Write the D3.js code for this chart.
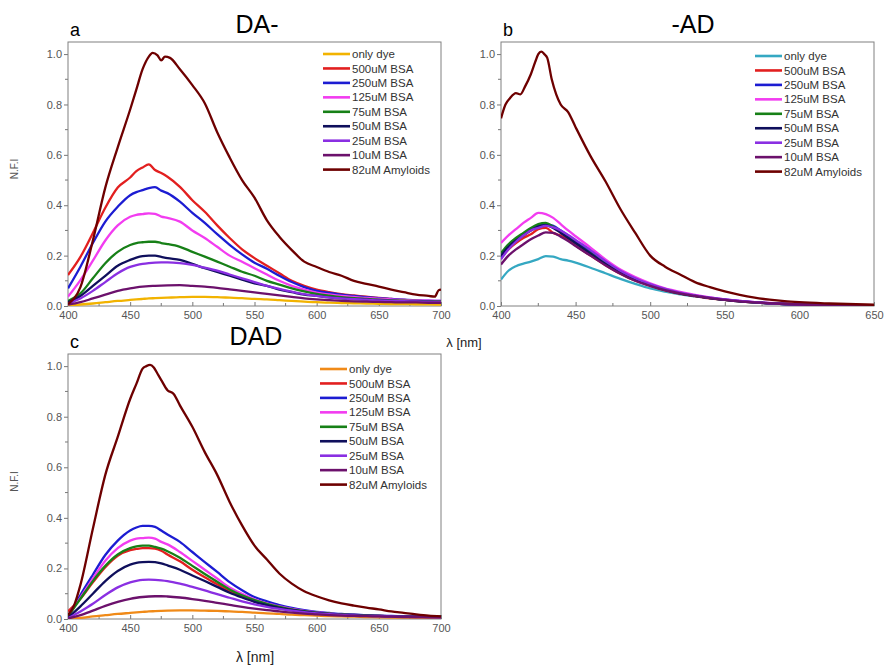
<!DOCTYPE html>
<html>
<head>
<meta charset="utf-8">
<script src="https://cdn.jsdelivr.net/npm/d3@7"></script>
<style>
  html, body { margin: 0; padding: 0; background: #fff; }
  svg { display: block; font-family: "Liberation Sans", Arial, sans-serif; }
</style>
</head>
<body>
<svg id="chart" width="886" height="669"></svg>
<script>
// ---- data -------------------------------------------------------------
const legendLabels = ["only dye", "500uM BSA", "250uM BSA", "125uM BSA", "75uM BSA",
                      "50uM BSA", "25uM BSA", "10uM BSA", "82uM Amyloids"];
const xTicksAC = [400, 450, 500, 550, 600, 650, 700];
const xTicksB = [400, 450, 500, 550, 600, 650];
const yTicks = [0.0, 0.2, 0.4, 0.6, 0.8, 1.0];

// Panel a (DA-)
const wlA = [400,410,420,430,440,450,455,460,465,470,475,480,490,500,510,520,530,540,550,560,570,580,590,600,610,620,630,640,650,660,670,680,690,700];
const dyeA    = [.003,.006,.01,.015,.02,.024,.026,.028,.03,.031,.032,.033,.035,.036,.036,.035,.033,.031,.028,.026,.023,.02,.017,.015,.013,.012,.011,.01,.009,.008,.008,.007,.007,.006];
const bsa500A = [.123,.195,.29,.39,.47,.51,.535,.55,.562,.54,.528,.513,.473,.42,.374,.32,.27,.225,.19,.16,.13,.1,.08,.065,.055,.047,.042,.037,.032,.028,.024,.021,.019,.017];
const bsa250A = [.07,.156,.25,.335,.394,.44,.452,.46,.468,.472,.458,.448,.414,.37,.33,.285,.243,.205,.172,.148,.12,.095,.075,.06,.052,.045,.04,.035,.031,.028,.025,.022,.021,.02];
const bsa125A = [.037,.103,.18,.26,.32,.354,.362,.365,.368,.366,.355,.35,.335,.30,.27,.235,.2,.176,.15,.125,.1,.08,.065,.053,.046,.04,.036,.032,.029,.026,.024,.022,.021,.02];
const bsa75A  = [.02,.05,.11,.17,.215,.242,.25,.253,.255,.255,.25,.246,.235,.215,.196,.176,.156,.136,.12,.1,.085,.07,.058,.048,.041,.035,.031,.028,.025,.022,.021,.02,.019,.018];
const bsa50A  = [.015,.04,.08,.12,.16,.183,.192,.198,.2,.2,.195,.19,.183,.167,.15,.135,.12,.105,.09,.08,.065,.055,.045,.04,.034,.03,.027,.025,.022,.02,.019,.018,.017,.016];
const bsa25A  = [.01,.03,.06,.095,.13,.155,.162,.167,.17,.172,.173,.173,.17,.163,.152,.14,.125,.11,.095,.08,.068,.057,.047,.04,.034,.03,.027,.025,.022,.02,.019,.018,.017,.016];
const bsa10A  = [.005,.015,.03,.045,.06,.07,.074,.077,.079,.08,.081,.082,.083,.08,.077,.072,.066,.06,.054,.048,.042,.036,.03,.026,.023,.02,.018,.017,.016,.015,.014,.014,.013,.013];
const wlAmyA  = [400,410,420,430,440,450,455,460,465,468,472,475,478,482,490,500,510,520,530,540,550,560,570,580,590,600,610,620,630,640,650,660,670,680,690,695,698,700];
const amyA    = [.008,.075,.26,.47,.63,.78,.86,.94,.99,1.005,.995,.975,.99,.985,.94,.877,.805,.69,.59,.50,.43,.34,.275,.222,.176,.155,.135,.12,.10,.088,.077,.065,.055,.045,.04,.037,.062,.065];

// Panel b (-AD)
const wlB = [400,405,410,415,420,425,430,435,440,445,450,460,470,480,490,500,510,520,530,540,550,560,570,580,590,600,620,650];
const dyeB    = [.105,.14,.158,.168,.176,.186,.198,.196,.186,.18,.172,.152,.13,.108,.088,.07,.057,.046,.038,.031,.025,.019,.015,.011,.008,.006,.004,.002];
const bsa500B = [.19,.225,.25,.27,.285,.305,.31,.29,.28,.262,.24,.2,.162,.128,.1,.08,.062,.049,.039,.03,.024,.018,.014,.011,.009,.007,.005,.003];
const bsa250B = [.19,.23,.26,.285,.305,.32,.325,.318,.3,.28,.258,.215,.172,.136,.107,.084,.066,.052,.041,.032,.025,.019,.014,.011,.008,.006,.004,.002];
const bsa125B = [.25,.28,.305,.33,.35,.37,.365,.35,.325,.3,.277,.232,.185,.145,.115,.09,.07,.056,.044,.034,.026,.02,.015,.012,.009,.007,.004,.002];
const bsa75B  = [.21,.245,.27,.29,.31,.325,.33,.315,.295,.272,.25,.21,.168,.132,.104,.082,.064,.05,.04,.031,.024,.018,.014,.011,.008,.006,.004,.002];
const bsa50B  = [.2,.235,.26,.28,.3,.315,.32,.31,.29,.27,.25,.208,.167,.132,.104,.082,.064,.05,.04,.031,.024,.018,.014,.011,.008,.006,.004,.002];
const bsa25B  = [.185,.225,.255,.28,.3,.31,.318,.312,.3,.282,.262,.222,.178,.14,.11,.087,.068,.053,.042,.033,.026,.02,.015,.011,.008,.006,.004,.002];
const bsa10B  = [.165,.2,.225,.245,.265,.28,.292,.29,.275,.258,.238,.2,.162,.128,.1,.08,.063,.05,.04,.031,.024,.018,.014,.011,.008,.006,.004,.002];
const wlAmyB  = [400,403,406,410,413,416,420,423,425,427,429,431,434,437,440,445,450,460,470,480,490,500,510,520,530,540,550,560,570,580,590,600,620,650];
const amyB    = [.745,.80,.825,.845,.84,.87,.92,.97,1.0,1.01,1.0,.985,.9,.84,.8,.77,.71,.595,.495,.385,.29,.20,.156,.125,.095,.075,.058,.044,.033,.025,.019,.015,.01,.005];

// Panel c (DAD)
const wlC = [400,410,420,430,440,450,455,460,465,470,475,480,490,500,510,520,530,540,550,560,570,580,590,600,610,620,630,640,650,660,670,680,690,700];
const dyeC    = [.001,.004,.01,.015,.02,.024,.026,.028,.03,.031,.032,.033,.034,.034,.033,.032,.03,.028,.025,.022,.02,.017,.015,.013,.011,.01,.009,.008,.007,.006,.006,.005,.005,.005];
const bsa500C = [.03,.08,.145,.205,.25,.272,.277,.28,.28,.278,.27,.255,.228,.195,.165,.137,.11,.088,.07,.056,.045,.036,.029,.024,.02,.017,.015,.013,.012,.011,.01,.009,.009,.008];
const bsa250C = [.01,.095,.175,.253,.31,.35,.362,.368,.368,.364,.35,.334,.305,.265,.225,.186,.146,.114,.087,.07,.055,.044,.035,.028,.024,.02,.018,.015,.013,.012,.011,.01,.009,.008];
const bsa125C = [.01,.085,.16,.23,.28,.31,.318,.32,.322,.318,.305,.295,.265,.23,.195,.16,.125,.1,.078,.062,.05,.04,.032,.026,.022,.018,.016,.014,.012,.011,.01,.009,.009,.008];
const bsa75C  = [.01,.08,.15,.21,.255,.28,.287,.29,.29,.285,.278,.268,.242,.21,.178,.147,.117,.094,.075,.06,.048,.038,.031,.025,.021,.018,.016,.014,.012,.011,.01,.009,.009,.008];
const bsa50C  = [.005,.05,.1,.15,.19,.215,.222,.225,.226,.225,.22,.212,.195,.172,.15,.127,.104,.085,.068,.055,.044,.036,.029,.024,.02,.017,.015,.013,.012,.011,.01,.009,.009,.008];
const bsa25C  = [.003,.03,.06,.095,.125,.145,.151,.155,.156,.155,.153,.15,.14,.127,.113,.098,.084,.07,.058,.048,.04,.033,.027,.022,.019,.016,.014,.012,.011,.01,.009,.008,.008,.007];
const bsa10C  = [.002,.015,.033,.052,.068,.08,.084,.087,.089,.09,.09,.089,.085,.079,.072,.064,.056,.048,.041,.035,.03,.025,.021,.018,.015,.013,.012,.011,.01,.009,.008,.008,.007,.007];
const wlAmyC  = [400,405,410,420,430,440,450,455,460,463,466,469,472,475,480,485,490,500,510,520,530,540,550,560,570,580,590,600,610,620,630,640,650,660,670,680,690,700];
const amyC    = [.015,.055,.135,.357,.57,.72,.87,.93,.99,1.0,1.005,.995,.97,.945,.905,.89,.845,.76,.66,.57,.463,.37,.29,.235,.18,.14,.11,.09,.074,.062,.053,.045,.038,.03,.024,.018,.013,.01];

// ---- styling ----------------------------------------------------------
const bsaColors = ["#e21f1f", "#1c1cd2", "#f23cf0", "#178017", "#0f0f5c", "#8a2fe2", "#6c116c"];
const amyColor = "#6e0000";
const dyeColors = { a: "#f2b300", b: "#35a8c2", c: "#f08a18" };

const svg = d3.select("#chart");

function zip(wl, vals) { return wl.map((w, i) => ({ w, v: vals[i] })); }

function drawPanel(p) {
  const g = svg.append("g");
  const x = d3.scaleLinear().domain(p.xDomain).range([p.left, p.left + p.width]);
  const y = d3.scaleLinear().domain([0, 1.048]).range([p.top + p.height, p.top]);

  // minor ticks
  const minorX = d3.range(p.xDomain[0], p.xDomain[1] + 1, 25).filter(v => v % 50 !== 0);
  g.append("g").selectAll("line").data(minorX).join("line")
    .attr("x1", d => x(d)).attr("x2", d => x(d))
    .attr("y1", p.top + p.height).attr("y2", p.top + p.height - 3)
    .attr("stroke", "#777").attr("stroke-width", 1);
  const minorY = [0.1, 0.3, 0.5, 0.7, 0.9];
  g.append("g").selectAll("line").data(minorY).join("line")
    .attr("x1", p.left - 3).attr("x2", p.left)
    .attr("y1", d => y(d)).attr("y2", d => y(d))
    .attr("stroke", "#777").attr("stroke-width", 1);

  // axes
  const ax = g.append("g").attr("transform", `translate(0,${p.top + p.height})`)
    .call(d3.axisBottom(x).tickValues(p.xTicks).tickFormat(d3.format("d"))
      .tickSizeInner(-4).tickSizeOuter(0).tickPadding(5));
  const ay = g.append("g").attr("transform", `translate(${p.left},0)`)
    .call(d3.axisLeft(y).tickValues(yTicks).tickFormat(d3.format(".1f"))
      .tickSizeInner(4).tickSizeOuter(0).tickPadding(2));
  [ax, ay].forEach(a => {
    a.select(".domain").remove();
    a.selectAll(".tick line").attr("stroke", "#777");
    a.selectAll(".tick text").attr("fill", "#555").style("font-size", "11px")
      .style("font-family", "'Liberation Sans', Arial, sans-serif");
  });

  // frame
  g.append("rect").attr("x", p.left).attr("y", p.top)
    .attr("width", p.width).attr("height", p.height)
    .attr("fill", "none").attr("stroke", "#808080").attr("stroke-width", 1);

  // curves
  const line = d3.line().x(d => x(d.w)).y(d => y(d.v)).curve(d3.curveMonotoneX);
  const clipId = "clip-" + p.id;
  g.append("clipPath").attr("id", clipId).append("rect")
    .attr("x", p.left).attr("y", p.top).attr("width", p.width).attr("height", p.height);
  const curves = g.append("g").attr("clip-path", `url(#${clipId})`);
  p.series.forEach(s => {
    curves.append("path").datum(zip(s.wl, s.vals))
      .attr("d", line).attr("fill", "none")
      .attr("stroke", s.color).attr("stroke-width", 2.3)
      .attr("stroke-linejoin", "round");
  });

  // legend
  const lg = g.append("g");
  p.series.forEach((s, i) => {
    const yy = p.legY + i * 14.45;
    lg.append("line").attr("x1", p.legX).attr("x2", p.legX + 27)
      .attr("y1", yy).attr("y2", yy)
      .attr("stroke", s.color).attr("stroke-width", 2.6);
    lg.append("text").attr("x", p.legX + 29).attr("y", yy)
      .attr("dy", "0.36em").attr("fill", "#333")
      .style("font-size", "11.5px").text(s.label);
  });

  // panel titles
  g.append("text").attr("x", p.titleX).attr("y", p.top - 9)
    .attr("text-anchor", "middle").attr("fill", "#000")
    .style("font-size", "25px").text(p.title);
  g.append("text").attr("x", p.left + 2).attr("y", p.top - 6)
    .attr("fill", "#000").style("font-size", "18px").text(p.letter);

  if (p.yLabel) {
    g.append("text").attr("transform", `translate(${p.left - 50},${p.top + p.height / 2 - 5}) rotate(-90)`)
      .attr("text-anchor", "middle").attr("fill", "#555")
      .style("font-size", "10px").text("N.F.I");
  }
  return { x, y };
}

function makeSeries(wl, dyeColor, dye, bsa, wlAmy, amy) {
  const list = [{ label: legendLabels[0], color: dyeColor, wl, vals: dye }];
  bsa.forEach((vals, i) => list.push({ label: legendLabels[i + 1], color: bsaColors[i], wl, vals }));
  list.push({ label: legendLabels[8], color: amyColor, wl: wlAmy, vals: amy });
  return list;
}

drawPanel({
  id: "a", letter: "a", title: "DA-", left: 68, top: 42, width: 373, height: 264,
  xDomain: [400, 700], xTicks: xTicksAC, titleX: 257, legX: 323, legY: 54, yLabel: true,
  series: makeSeries(wlA, dyeColors.a, dyeA,
    [bsa500A, bsa250A, bsa125A, bsa75A, bsa50A, bsa25A, bsa10A], wlAmyA, amyA)
});
drawPanel({
  id: "b", letter: "b", title: "-AD", left: 501, top: 42, width: 373, height: 264,
  xDomain: [400, 650], xTicks: xTicksB, titleX: 693, legX: 755, legY: 56, yLabel: false,
  series: makeSeries(wlB, dyeColors.b, dyeB,
    [bsa500B, bsa250B, bsa125B, bsa75B, bsa50B, bsa25B, bsa10B], wlAmyB, amyB)
});
drawPanel({
  id: "c", letter: "c", title: "DAD", left: 68, top: 354, width: 373, height: 265,
  xDomain: [400, 700], xTicks: xTicksAC, titleX: 256, legX: 320, legY: 369, yLabel: true,
  series: makeSeries(wlC, dyeColors.c, dyeC,
    [bsa500C, bsa250C, bsa125C, bsa75C, bsa50C, bsa25C, bsa10C], wlAmyC, amyC)
});

// wavelength axis titles
svg.append("text").attr("x", 464).attr("y", 347).attr("text-anchor", "middle")
  .attr("fill", "#222").style("font-size", "13px").text("λ [nm]");
svg.append("text").attr("x", 255).attr("y", 662).attr("text-anchor", "middle")
  .attr("fill", "#222").style("font-size", "14px").text("λ [nm]");
</script>
</body>
</html>
